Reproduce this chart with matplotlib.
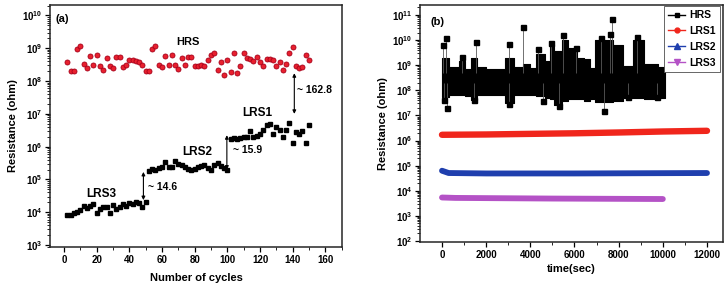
import numpy as np
import matplotlib.pyplot as plt
from matplotlib.lines import Line2D
from matplotlib.ticker import LogLocator, MultipleLocator, NullFormatter

plt.rcParams['font.family'] = ['Liberation Sans', 'DejaVu Sans']
plt.rcParams['font.weight'] = 'bold'
plt.rcParams['axes.labelweight'] = 'bold'

# ---- panel (a): resistance vs cycle (values as log10 of ohm) ----
cycles = np.arange(2, 151, 2)
hrs_log = [8.58, 8.31, 8.31, 8.99, 9.06, 8.51, 8.41, 8.76, 8.48, 8.81,
           8.45, 8.33, 8.71, 8.45, 8.41, 8.73, 8.73, 8.43, 8.48, 8.64,
           8.64, 8.60, 8.58, 8.48, 8.31, 8.31, 8.99, 9.06, 8.50, 8.43,
           8.76, 8.48, 8.81, 8.48, 8.38, 8.70, 8.48, 8.74, 8.74, 8.45,
           8.45, 8.48, 8.47, 8.64, 8.78, 8.85, 8.33, 8.58, 8.20, 8.64,
           8.28, 8.85, 8.25, 8.47, 8.85, 8.71, 8.67, 8.62, 8.73, 8.57,
           8.47, 8.67, 8.67, 8.64, 8.45, 8.57, 8.35, 8.53, 8.85, 9.05,
           8.47, 8.40, 8.42, 8.78, 8.64]
lrs_log = [3.91, 3.93, 3.97, 4.02, 4.07, 4.19, 4.12, 4.19, 4.25, 3.97,
           4.09, 4.15, 4.17, 3.97, 4.22, 4.09, 4.17, 4.25, 4.19, 4.27,
           4.25, 4.32, 4.29, 4.17, 4.31,
           5.26, 5.33, 5.30, 5.35, 5.37, 5.54, 5.37, 5.39, 5.57, 5.48,
           5.44, 5.38, 5.33, 5.28, 5.33, 5.38, 5.40, 5.44, 5.36, 5.30,
           5.44, 5.49, 5.40, 5.36, 5.28,
           6.22, 6.25, 6.22, 6.25, 6.28, 6.28, 6.48, 6.30, 6.32, 6.40,
           6.52, 6.65, 6.68, 6.40, 6.60, 6.50, 6.28, 6.52, 6.72, 6.11,
           6.45, 6.38, 6.48, 6.11, 6.65]

# ---- panel (b): retention (time in s, log10 of ohm) ----
t_env = [0, 300, 750, 1050, 1300, 1600, 2000, 2850, 3250, 3650, 4000, 4250,
         4650, 4900, 5050, 5450, 5700, 6100, 6450, 6700, 6950, 7750, 8200,
         8650, 9150, 9800, 10100]
hrs_top = [9.30, 8.92, 9.18, 8.85, 9.30, 8.92, 8.85, 9.30, 8.95, 9.05, 8.90,
           9.45, 9.18, 9.80, 9.55, 10.0, 9.67, 9.30, 9.25, 8.90, 10.0, 9.80,
           8.98, 10.0, 9.05, 8.92, 8.92]
hrs_bot = [7.72, 7.82, 7.80, 7.78, 7.62, 7.82, 7.80, 7.48, 7.80, 7.80, 7.80,
           7.76, 7.70, 7.64, 7.42, 7.58, 7.64, 7.64, 7.58, 7.66, 7.52, 7.58,
           7.70, 7.70, 7.64, 7.70, 7.70]
spike_t = [60, 181, 891, 1540, 3050, 3653, 4333, 4937, 5495, 6054, 7186,
           7600, 7716, 8821]
spike_log = [9.80, 10.09, 9.33, 9.91, 9.83, 10.53, 9.63, 9.87, 10.20, 9.67,
             10.07, 10.25, 10.83, 10.13]
dip_t = [105, 211, 1464, 3050, 4590, 5314, 7337, 8442, 9730]
dip_log = [7.60, 7.31, 7.60, 7.47, 7.57, 7.36, 7.17, 7.73, 7.73]

t_lrs1 = [0, 2000, 4000, 6000, 8000, 10000, 12000]
lrs1 = [1.7e6, 1.75e6, 1.85e6, 1.95e6, 2.1e6, 2.3e6, 2.45e6]
t_lrs2 = [0, 300, 2000, 6000, 12000]
lrs2 = [6.3e4, 5.1e4, 4.9e4, 4.9e4, 5.1e4]
t_lrs3 = [0, 600, 5000, 10000]
lrs3 = [5.4e3, 5.2e3, 4.9e3, 4.7e3]

red = '#f0261c'
blue = '#1f3fae'
purple = '#b452c6'

fig = plt.figure(figsize=(7.28, 3.06), dpi=100)
ax1 = fig.add_axes([50 / 728, 59 / 306, 292 / 728, 242 / 306])
ax2 = fig.add_axes([420 / 728, 64 / 306, 303 / 728, 237 / 306])

# panel (a)
ax1.plot(cycles, 10 ** np.array(hrs_log), 'o', ms=3.6, mfc='#e8202e',
         mec='#a8001a', mew=0.6, ls='none')
ax1.plot(cycles, 10 ** np.array(lrs_log), 's', ms=3.1, color='k', ls='none')
ax1.set_yscale('log')
ax1.set_ylim(10 ** 2.94, 10 ** 10.32)
ax1.set_xlim(-8.6, 170.2)
ax1.xaxis.set_major_locator(MultipleLocator(20))
ax1.xaxis.set_minor_locator(MultipleLocator(10))
ax1.yaxis.set_major_locator(LogLocator(base=10, numticks=20))
ax1.yaxis.set_minor_locator(LogLocator(base=10, subs=(2, 3, 4, 5, 6, 7, 8, 9), numticks=20))
ax1.yaxis.set_minor_formatter(NullFormatter())
ax1.set_xlabel('Number of cycles', fontsize=8, labelpad=6)
ax1.set_ylabel('Resistance (ohm)', fontsize=8, labelpad=3)

ax1.text(-5.5, 10 ** 9.9, '(a)', ha='left', va='center', fontsize=8)
ax1.text(76, 10 ** 9.19, 'HRS', ha='center', va='center', fontsize=8)
ax1.text(118.5, 10 ** 7.03, 'LRS1', ha='center', va='center', fontsize=8.5)
ax1.text(81.7, 10 ** 5.84, 'LRS2', ha='center', va='center', fontsize=8.5)
ax1.text(23, 10 ** 4.57, 'LRS3', ha='center', va='center', fontsize=8.5)
ax1.text(51.6, 10 ** 4.78, '~ 14.6', ha='left', va='center', fontsize=7.5)
ax1.text(103.5, 10 ** 5.89, '~ 15.9', ha='left', va='center', fontsize=7.5)
ax1.text(142.5, 10 ** 7.74, '~ 162.8', ha='left', va='center', fontsize=7.5)

arrows = [(48.6, 4.37, 5.23), (99.7, 5.30, 6.35), (141, 7.0, 8.24)]
for ax_x, lo, hi in arrows:
    ax1.annotate('', xy=(ax_x, 10 ** hi), xytext=(ax_x, 10 ** lo),
                 arrowprops=dict(arrowstyle='<|-|>', lw=0.8, color='k',
                                 mutation_scale=5, shrinkA=0, shrinkB=0))

# panel (b)
ax2.fill_between(t_env, 10 ** np.array(hrs_top), 10 ** np.array(hrs_bot),
                 step='post', color='k', lw=0.8)
ax2.vlines(spike_t, 5e8, 10 ** np.array(spike_log), color='0.35', lw=0.6)
ax2.vlines(dip_t, 10 ** np.array(dip_log), 2e8, color='0.35', lw=0.6)
ax2.plot(spike_t, 10 ** np.array(spike_log), 's', color='k', ms=3.6)
ax2.plot(dip_t, 10 ** np.array(dip_log), 's', color='k', ms=3.6)

ax2.plot(t_lrs1, lrs1, color=red, lw=4.6, solid_capstyle='round')
ax2.plot(t_lrs2, lrs2, color=blue, lw=4.2, solid_capstyle='round')
ax2.plot(t_lrs3, lrs3, color=purple, lw=4.2, solid_capstyle='round')

ax2.set_yscale('log')
ax2.set_ylim(10 ** 1.96, 10 ** 11.4)
ax2.set_xlim(-996, 12725)
ax2.xaxis.set_major_locator(MultipleLocator(2000))
ax2.xaxis.set_minor_locator(MultipleLocator(1000))
ax2.yaxis.set_major_locator(LogLocator(base=10, numticks=20))
ax2.yaxis.set_minor_locator(LogLocator(base=10, subs=(2, 3, 4, 5, 6, 7, 8, 9), numticks=20))
ax2.yaxis.set_minor_formatter(NullFormatter())
ax2.set_xlabel('time(sec)', fontsize=8, labelpad=3)
ax2.set_ylabel('Resistance (ohm)', fontsize=8, labelpad=3)
ax2.text(-500, 10 ** 10.72, '(b)', ha='left', va='center', fontsize=8)

handles = [
    Line2D([], [], color='k', marker='s', ms=3.5, lw=1),
    Line2D([], [], color=red, marker='o', ms=3.5, lw=1),
    Line2D([], [], color=blue, marker='^', ms=3.8, lw=1),
    Line2D([], [], color=purple, marker='v', ms=3.8, lw=1),
]
leg = ax2.legend(handles, ['HRS', 'LRS1', 'LRS2', 'LRS3'], loc='upper right',
                 bbox_to_anchor=(0.99, 0.995), borderaxespad=0, fontsize=7.5,
                 fancybox=False, edgecolor='0.3', framealpha=1,
                 handlelength=1.6, handletextpad=0.4, labelspacing=0.55,
                 borderpad=0.4)
leg.get_frame().set_linewidth(0.6)

for ax in (ax1, ax2):
    ax.tick_params(which='major', direction='out', length=3.5, width=0.9,
                   labelsize=7, pad=2)
    ax.tick_params(which='minor', direction='out', length=2, width=0.6)
    for s in ax.spines.values():
        s.set_linewidth(1.1)
        s.set_color('0.15')

fig.savefig('out.png', dpi=100)
